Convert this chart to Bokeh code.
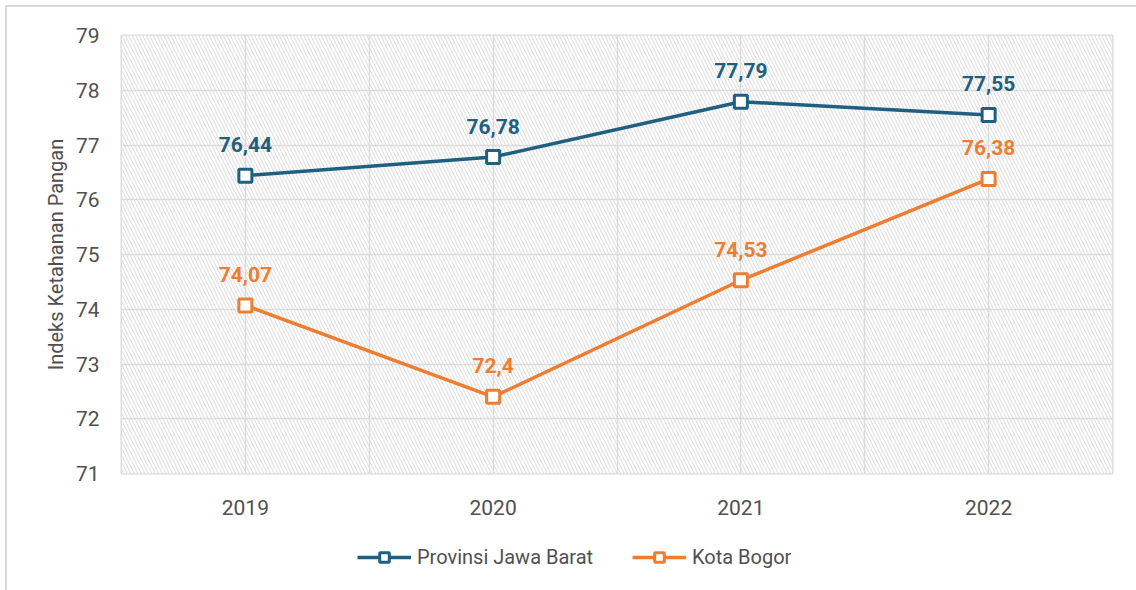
from bokeh.plotting import figure
from bokeh.layouts import column
from bokeh.models import (FixedTicker, BoxAnnotation, Legend, LegendItem, ColumnDataSource,
                          Range1d)
from bokeh.core.properties import value
from bokeh.embed import file_html
from bokeh.resources import INLINE

years = ["2019", "2020", "2021", "2022"]
jabar = [76.44, 76.78, 77.79, 77.55]
bogor = [74.07, 72.4, 74.53, 76.38]
series_names = ["Provinsi Jawa Barat", "Kota Bogor"]
y_ticks = [71, 72, 73, 74, 75, 76, 77, 78, 79]

BLUE = "#1f5f80"
ORANGE = "#ed7d31"
GREY = "#505050"
FONT = "Roboto"

xs = list(range(len(years)))

W = 1136 - 7
H1 = 526
H2 = 590 - 7 - H1

p = figure(width=W, height=H1, output_backend="svg", toolbar_location=None,
           x_range=Range1d(-0.5, len(years) - 0.5), y_range=Range1d(y_ticks[0], y_ticks[-1]),
           min_border_left=121 - 7, min_border_right=24, min_border_top=35 - 7,
           min_border_bottom=H1 - (473 - 7))

p.outline_line_color = "#d9d9d9"
p.outline_line_width = 2
p.background_fill_color = "white"
p.border_fill_color = "white"

bg = BoxAnnotation(fill_color="white", fill_alpha=1.0, line_alpha=0,
                   hatch_pattern="left_diagonal_line", hatch_color="#d9d9d9",
                   hatch_scale=7, hatch_weight=1.0, level="image")
p.add_layout(bg)

p.xgrid.ticker = FixedTicker(ticks=[i * 0.5 for i in range(-1, 2 * len(years))])
p.ygrid.ticker = FixedTicker(ticks=y_ticks)
for g in (p.xgrid, p.ygrid):
    g.grid_line_color = "#dcdcdc"
    g.grid_line_width = 1.5

p.xaxis.ticker = FixedTicker(ticks=xs)
p.xaxis.major_label_overrides = {i: y for i, y in enumerate(years)}
p.yaxis.ticker = FixedTicker(ticks=y_ticks)
for ax in (p.xaxis, p.yaxis):
    ax.axis_line_color = None
    ax.major_tick_line_color = None
    ax.minor_tick_line_color = None
    ax.major_label_text_font = FONT
    ax.major_label_text_font_size = "21px"
    ax.major_label_text_color = GREY
p.xaxis.major_label_standoff = 20
p.yaxis.major_label_standoff = 16
p.yaxis.axis_label = "Indeks Ketahanan Pangan"
p.yaxis.axis_label_text_font = FONT
p.yaxis.axis_label_text_font_size = "20px"
p.yaxis.axis_label_text_font_style = "normal"
p.yaxis.axis_label_text_color = GREY
p.yaxis.axis_label_standoff = 5

# legend figure
lf = figure(width=W, height=H2, output_backend="svg", toolbar_location=None,
            x_range=Range1d(0, 1), y_range=Range1d(0, 1),
            x_axis_type=None, y_axis_type=None, min_border=0)
lf.outline_line_color = None
lf.xgrid.visible = False
lf.ygrid.visible = False
lf.border_fill_color = "white"
lf.background_fill_color = "white"

items = []
for name, vals, color in zip(series_names, [jabar, bogor], [BLUE, ORANGE]):
    src = ColumnDataSource(dict(x=xs, y=vals, lab=[str(v).replace(".", ",") for v in vals]))
    p.line("x", "y", source=src, line_color=color, line_width=3.5)
    p.scatter("x", "y", source=src, marker="square", size=13, fill_color="white",
              line_color=color, line_width=3)
    p.text("x", "y", text="lab", source=src, text_align="center", text_baseline="middle",
           y_offset=-31, text_font=value(FONT), text_font_size="21px",
           text_font_style="bold", text_color=color)
    # off-range copies so the legend figure can draw the series' glyphs
    lr = lf.line(x=[5, 6], y=[5, 6], line_color=color, line_width=3.5)
    sr = lf.scatter(x=[5], y=[5], marker="square", size=13, fill_color="white",
                    line_color=color, line_width=3)
    items.append(LegendItem(label=name, renderers=[lr, sr]))

legend = Legend(items=items, orientation="horizontal", location=(236, 21),
                glyph_width=54, glyph_height=24, label_standoff=6, spacing=34,
                label_width=181, padding=0, margin=0, border_line_color=None,
                background_fill_alpha=0,
                label_text_font=FONT, label_text_font_size="20px", label_text_color=GREY)
lf.add_layout(legend, "center")

layout = column(p, lf, spacing=0,
                styles={"border-left": "2px solid #d9d9d9", "border-top": "2px solid #d9d9d9",
                        "margin-left": "5px", "margin-top": "5px"})

open("out.html", "w").write(file_html(layout, INLINE))
